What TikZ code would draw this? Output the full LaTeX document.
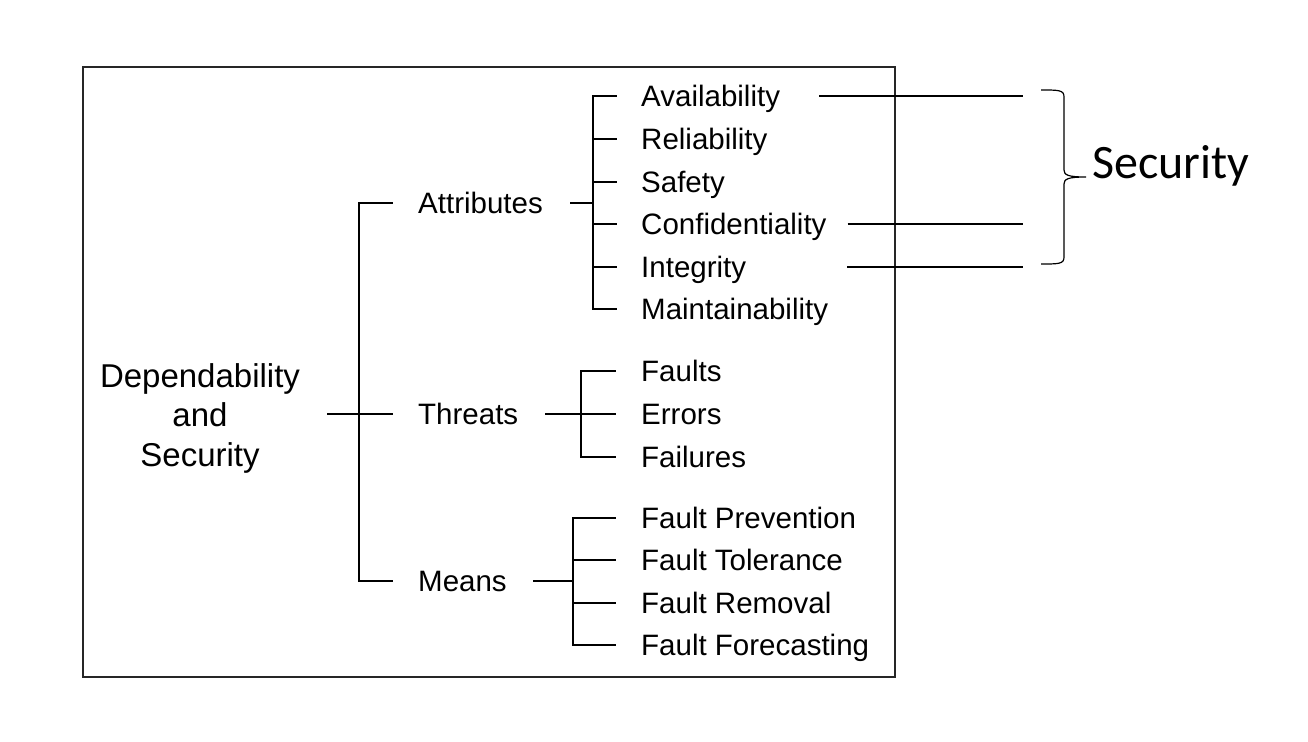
\documentclass[tikz,border=0pt]{standalone}
\usepackage{fontspec}
\setmainfont{Liberation Sans}
\newfontfamily\calib{Carlito}
\begin{document}
\begin{tikzpicture}[x=1pt,y=-1pt,
  lbl/.style={anchor=west,inner sep=0pt,text height=21pt,text depth=0pt,font=\fontsize{29.5}{39.5}\selectfont},
  tree/.style={line width=2.7pt,line cap=rect},
  secline/.style={line width=1.2pt},
  frame/.style={line width=2pt,draw=black!85}]
\useasboundingbox (0,0) rectangle (1308,741);
\draw[frame] (83,67) rectangle (895,677);

% root
\node[inner sep=0pt,align=center,font=\fontsize{33}{39.5}\selectfont] (root) at (200,418) {Dependability\\and\\Security};

% level 1
\node[lbl] (attr) at (418,203) {Attributes};
\node[lbl] (thr) at (418,414) {Threats};
\node[lbl] (mea) at (418,581) {Means};

% attributes children
\node[lbl] (av) at (641,96) {Availability};
\node[lbl] (re) at (641,139) {Reliability};
\node[lbl] (sa) at (641,182) {Safety};
\node[lbl] (co) at (641,224) {Confidentiality};
\node[lbl] (in) at (641,267) {Integrity};
\node[lbl] (ma) at (641,309) {Maintainability};

% threats children
\node[lbl] (fa) at (641,371) {Faults};
\node[lbl] (er) at (641,414) {Errors};
\node[lbl] (fl) at (641,457) {Failures};

% means children
\node[lbl] (fp) at (641,518) {Fault Prevention};
\node[lbl] (ft) at (641,560) {Fault Tolerance};
\node[lbl] (fr) at (641,603) {Fault Removal};
\node[lbl] (ff) at (641,645) {Fault Forecasting};

% bus coordinates
\coordinate (rbus) at ([xshift=-59pt]thr.west);
\coordinate (abus) at ([xshift=-48pt]av.west);
\coordinate (tbus) at ([xshift=-60pt]fa.west);
\coordinate (mbus) at ([xshift=-68pt]fp.west);

% root level
\draw[tree] ([xshift=-26pt]attr.west) -| (rbus) |- ([xshift=-26pt]mea.west);
\draw[tree] ([xshift=-90pt]thr.west) -- ([xshift=-26pt]thr.west);

% attributes
\draw[tree] ([xshift=28pt]attr.east) -- (abus |- attr.east);
\draw[tree] ([xshift=-25pt]av.west) -| (abus |- ma.west) -- ([xshift=-25pt]ma.west);
\foreach \n in {re,sa,co,in}{
  \draw[tree] (abus |- \n.west) -- ([xshift=-25pt]\n.west);
}

% threats
\draw[tree] ([xshift=28pt]thr.east) -- ([xshift=-26pt]er.west);
\draw[tree] ([xshift=-26pt]fa.west) -| (tbus |- fl.west) -- ([xshift=-26pt]fl.west);

% means
\draw[tree] ([xshift=27pt]mea.east) -- (mbus |- mea.east);
\draw[tree] ([xshift=-26pt]fp.west) -| (mbus |- ff.west) -- ([xshift=-26pt]ff.west);
\foreach \n in {ft,fr}{
  \draw[tree] (mbus |- \n.west) -- ([xshift=-26pt]\n.west);
}

% security lines
\coordinate (secR) at (1023,0);
\draw[secline] ([xshift=39pt]av.east) -- (secR |- av.east);
\draw[secline] ([xshift=21pt]co.east) -- (secR |- co.east);
\draw[secline] ([xshift=101pt]in.east) -- (secR |- in.east);

% brace
\draw[line width=1.2pt] (1041,90) .. controls (1059,90) and (1064,90) .. (1064,97)
  -- (1064,170) .. controls (1064,175) and (1068,177) .. (1086,177)
  .. controls (1068,177) and (1064,179) .. (1064,184)
  -- (1064,257) .. controls (1064,264) and (1059,264) .. (1041,264);
\node[anchor=base west,inner sep=0pt,font=\calib\fontsize{48}{56}\selectfont] (sec) at (1092,178.5) {Security};
\end{tikzpicture}
\end{document}
